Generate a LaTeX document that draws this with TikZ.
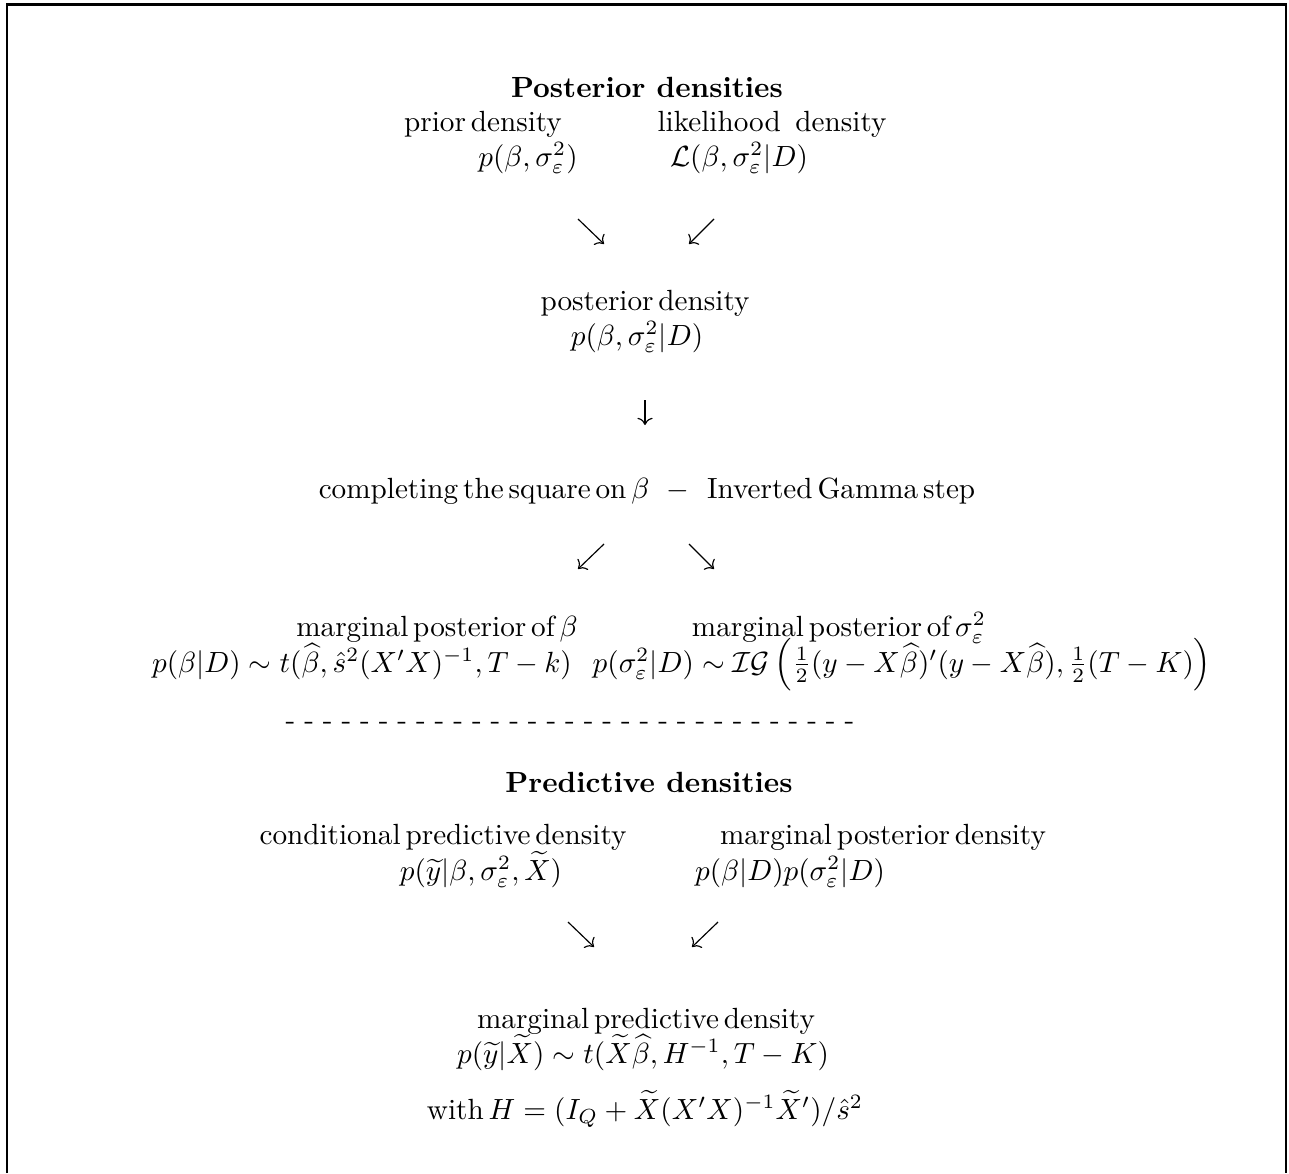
\documentclass[tikz,border=0pt]{standalone}
\usepackage{amsmath}
\usetikzlibrary{arrows.meta,positioning}
\tikzset{
  txt/.style={anchor=base, inner sep=0pt, execute at begin node={\spaceskip=1.67pt\relax}},
  head/.style={anchor=base, inner sep=0pt, font=\bfseries},
  dashline/.style={anchor=base, inner sep=0pt, execute at begin node={\spaceskip=3.05pt\relax}},
  flow/.style={-{To}, line width=0.4pt},
  frame/.style={line width=1pt},
}
\begin{document}
\begin{tikzpicture}[x=0.3425pt, y=-0.3425pt]
  \useasboundingbox (0,0) rectangle (1289,1173);
  \draw[frame] (7,1173) -- (7,4.5) -- (1286,4.5) -- (1286,1173);
  % posterior part
  \node[head] (posthead) at (647,97) {Posterior densities};
  \node[txt] (prior) at (483,131) {prior density};
  \node[txt] (priorf) at (528,166) {$p(\beta,\sigma_\varepsilon^2)$};
  \node[txt] (lik) at (772,131) {likelihood\hspace{5pt}density};
  \node[txt] (likf) at (739,166) {$\mathcal{L}(\beta,\sigma_\varepsilon^2|D)$};
  \node[txt] (post) at (645,310) {posterior density};
  \node[txt] (postf) at (637,345) {$p(\beta,\sigma_\varepsilon^2|D)$};
  \node[txt] (steps) at (647,498) {completing the square on $\beta$\hspace{6pt}$-$\hspace{6pt}Inverted Gamma step};
  \node[txt] (margb) at (437,636) {marginal posterior of $\beta$};
  \node[txt] (margbf) at (362,672) {$p(\beta|D)\sim t(\widehat{\beta},\hat{s}^2(X'X)^{-1},T-k)$};
  \node[txt] (margs) at (839,636) {marginal posterior of $\sigma_\varepsilon^2$};
  \node[txt] (margsf) at (902,672) {$p(\sigma_\varepsilon^2|D)\sim\mathcal{IG}\left(\frac{1}{2}(y-X\widehat{\beta})'(y-X\widehat{\beta}),\frac{1}{2}(T-K)\right)$};
  \node[dashline] (sep) at (570,729) {- - - - - - - - - - - - - - - - - - - - - - - - - - - - - - -};
  % predictive part
  \node[head] (predhead) at (649,792) {Predictive densities};
  \node[txt] (cond) at (443,844) {conditional predictive density};
  \node[txt] (condf) at (481,880) {$p(\widetilde{y}|\beta,\sigma_\varepsilon^2,\widetilde{X})$};
  \node[txt] (mpost) at (883,844) {marginal posterior density};
  \node[txt] (mpostf) at (790,880) {$p(\beta|D)p(\sigma_\varepsilon^2|D)$};
  \node[txt] (mpred) at (646,1028) {marginal predictive density};
  \node[txt] (mpredf) at (643,1063) {$p(\widetilde{y}|\widetilde{X})\sim t(\widetilde{X}\widehat{\beta},H^{-1},T-K)$};
  \node[txt] (hdef) at (645,1119) {with $H=(I_Q+\widetilde{X}(X'X)^{-1}\widetilde{X}')/\hat{s}^2$};
  % arrows
  \coordinate (a1) at (578,219); \coordinate (a1e) at (604,244);
  \coordinate (a2) at (714,219); \coordinate (a2e) at (689,244);
  \coordinate (a3) at (645,400); \coordinate (a3e) at (645,425);
  \coordinate (a4) at (604,544); \coordinate (a4e) at (578,569);
  \coordinate (a5) at (689,544); \coordinate (a5e) at (714,569);
  \coordinate (a6) at (568,922); \coordinate (a6e) at (594,947);
  \coordinate (a7) at (718,922); \coordinate (a7e) at (692,947);
  \foreach \s/\e in {a1/a1e,a2/a2e,a3/a3e,a4/a4e,a5/a5e,a6/a6e,a7/a7e}
    \draw[flow] (\s) -- (\e);
\end{tikzpicture}
\end{document}
